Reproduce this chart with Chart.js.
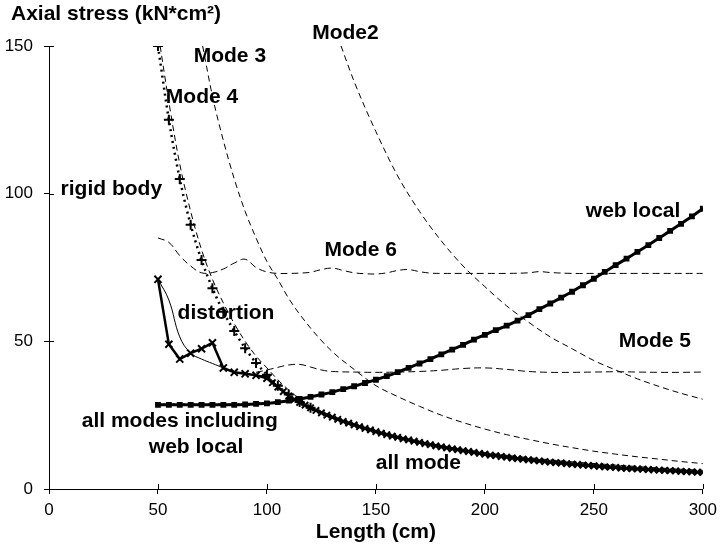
<!DOCTYPE html>
<html lang="en">
<head>
<meta charset="UTF-8">
<title>Axial stress vs length</title>
<script src="https://cdn.jsdelivr.net/npm/chart.js"></script>
<style>
  body { margin: 0; background: #fff; }
  #wrap { width: 723px; height: 546px; position: relative; }
</style>
</head>
<body>
<div id="wrap"><canvas id="stressChart"></canvas></div>
<script>
// values (x = length in cm, y = axial stress)
const xTicks = [0, 50, 100, 150, 200, 250, 300];
const yTicks = [0, 50, 100, 150];

const rigidX = [50, 55, 60, 65, 70, 75, 80, 85, 90, 95, 100, 105, 110, 115, 120];
const rigidY = [150, 125, 105, 89.5, 77.5, 68, 60, 53.5, 47.7, 42.7, 38.7, 35, 32, 29.5, 27.5];

const mode4X = [51, 55, 60, 65, 70, 75, 80, 85, 90, 95, 100, 105, 110, 115, 120, 130, 140, 150, 160, 170, 180, 190, 200, 220, 240, 260, 280, 300];
const mode4Y = [150, 131, 110, 94, 81, 71, 63, 56, 50, 45, 41, 37, 33.5, 30.5, 28, 24.8, 21.8, 19.5, 17.5, 16, 14.6, 13.4, 12.3, 10.6, 9.2, 8.1, 7.1, 6.3];

const mode3X = [70.5, 75, 80, 85, 90, 95, 100, 105, 110, 120, 130, 140, 150, 160, 170, 180, 190, 200, 210, 220, 230, 240, 250, 260, 270, 280, 290, 300];
const mode3Y = [150, 133, 118, 105, 94, 85, 77, 71, 64.5, 54.5, 46.5, 40.5, 35, 31.3, 28, 25, 22.5, 20.3, 18.4, 16.8, 15.3, 14, 12.8, 11.8, 10.9, 10.1, 9.3, 8.6];

const mode2X = [134, 140, 150, 160, 170, 180, 190, 200, 210, 220, 230, 240, 250, 260, 270, 280, 290, 300];
const mode2Y = [150, 138, 121, 106, 94, 84, 75.5, 68.5, 62, 56.5, 51.5, 47.5, 43.5, 40.3, 37.3, 34.7, 32.4, 30.4];

const mode6X = [50, 55, 60, 65, 70, 75, 80, 85, 90, 95, 100, 105, 110, 115, 120, 125, 130, 135, 140, 145, 150, 155, 160, 165, 170, 175, 180, 190, 200, 210, 220, 225, 230, 240, 250, 260, 270, 280, 290, 300];
const mode6Y = [85, 83.5, 79, 75.5, 73.2, 73.3, 74.5, 76.5, 77.8, 75, 73.5, 73, 73, 73.1, 73.4, 74.3, 74.8, 74, 73.2, 72.9, 72.8, 73.2, 74, 74.3, 73.6, 73.1, 73, 73, 73, 73, 73.2, 73.6, 73.3, 73, 73, 73, 73, 73, 73, 73];

const mode5X = [95, 100, 105, 110, 115, 120, 125, 130, 140, 150, 160, 170, 180, 190, 200, 210, 220, 230, 240, 250, 260, 270, 280, 290, 300];
const mode5Y = [39.5, 40.3, 41.2, 42, 42.2, 41.3, 40.3, 39.8, 39.6, 39.5, 39.6, 39.8, 40.2, 40.8, 41, 40.5, 39.8, 39.5, 39.5, 39.6, 39.7, 39.6, 39.5, 39.5, 39.6];

const distortionX = [50, 55, 60, 65, 70, 75, 80, 85, 90, 95, 100, 105, 110];
const distortionY = [71, 64, 51.5, 46, 44, 42.5, 41, 39.5, 39, 38.5, 38, 35, 31.5];

const allModeX = [50, 55, 60, 65, 70, 75, 80, 85, 90, 95, 100, 102.5, 105, 107.5, 110, 112.5, 115, 117.5, 120, 122.5, 125, 127.5, 130, 132.5, 135, 137.5, 140, 142.5, 145, 147.5, 150, 152.5, 155, 157.5, 160, 162.5, 165, 167.5, 170, 172.5, 175, 177.5, 180, 182.5, 185, 187.5, 190, 192.5, 195, 197.5, 200, 202.5, 205, 207.5, 210, 212.5, 215, 217.5, 220, 222.5, 225, 227.5, 230, 232.5, 235, 237.5, 240, 242.5, 245, 247.5, 250, 252.5, 255, 257.5, 260, 262.5, 265, 267.5, 270, 272.5, 275, 277.5, 280, 282.5, 285, 287.5, 290, 292.5, 295, 297.5, 300];
const allModeY = [71, 49, 44, 46, 47.5, 49.5, 41, 39.5, 39, 38.5, 37.5, 36, 34.5, 33, 31.5, 30.3, 29.3, 28.4, 27.5, 26.6, 25.8, 25, 24.3, 23.6, 22.9, 22.3, 21.7, 21.1, 20.5, 20, 19.4, 18.9, 18.4, 17.9, 17.5, 17, 16.6, 16.2, 15.8, 15.4, 15, 14.6, 14.3, 13.9, 13.6, 13.3, 13, 12.7, 12.4, 12.1, 11.8, 11.5, 11.3, 11, 10.8, 10.5, 10.3, 10.1, 9.9, 9.7, 9.5, 9.3, 9.1, 8.9, 8.8, 8.6, 8.4, 8.3, 8.1, 8, 7.8, 7.7, 7.5, 7.4, 7.3, 7.1, 7, 6.9, 6.8, 6.7, 6.6, 6.5, 6.4, 6.3, 6.2, 6.1, 6, 5.9, 5.8, 5.7, 5.6];

const webLocalX = [50, 55, 60, 65, 70, 75, 80, 85, 90, 95, 100, 105, 110, 115, 120, 125, 130, 135, 140, 145, 150, 155, 160, 165, 170, 175, 180, 185, 190, 195, 200, 205, 210, 215, 220, 225, 230, 235, 240, 245, 250, 255, 260, 265, 270, 275, 280, 285, 290, 295, 300];
const webLocalY = [28.5, 28.5, 28.5, 28.5, 28.5, 28.5, 28.5, 28.5, 28.6, 28.8, 29, 29.4, 29.9, 30.5, 31.2, 32, 32.8, 33.8, 34.8, 35.9, 37, 38.2, 39.6, 41, 42.5, 44, 45.6, 47.2, 48.8, 50.6, 52.2, 53.8, 55.3, 57, 58.9, 60.9, 62.8, 64.8, 66.8, 69, 71.2, 73.5, 75.8, 78, 80.3, 82.6, 85, 87.4, 89.8, 92.3, 94.9];

const inclX = [50, 55, 60, 65, 70, 75, 80, 85, 90, 95, 100, 105, 110, 112.5, 115, 120, 130, 140, 150, 160, 170, 180, 190, 200, 220, 240, 260, 280, 300];
const inclY = [28.5, 28.5, 28.5, 28.5, 28.5, 28.5, 28.5, 28.5, 28.6, 28.8, 29, 29.4, 29.9, 30.2, 29.3, 27.5, 24.3, 21.7, 19.4, 17.5, 15.8, 14.3, 13, 11.8, 9.9, 8.4, 7.3, 6.4, 5.6];

// text labels inside the plot (data coordinates)
const notes = [
    { text: 'Mode2', x: 136, y: 154.4 },
    { text: 'Mode 3', x: 83, y: 146.4 },
    { text: 'Mode 4', x: 70.2, y: 132.8 },
    { text: 'rigid body', x: 28.6, y: 101.4 },
    { text: 'Mode 6', x: 143, y: 81 },
    { text: 'web local', x: 268, y: 94 },
    { text: 'distortion', x: 81.2, y: 59.4 },
    { text: 'Mode 5', x: 278, y: 50 },
    { text: 'all modes including', x: 60, y: 22.8 },
    { text: 'web local', x: 67.5, y: 14 },
    { text: 'all mode', x: 169.5, y: 8.9 }
];

function pts(xs, ys) {
    return xs.map((x, i) => ({ x: x, y: ys[i] }));
}

const FONT = '"Liberation Sans", Arial, sans-serif';

const textPlugin = {
    id: 'textPlugin',
    afterDraw(chart) {
        const ctx = chart.ctx;
        const xs = chart.scales.x, ys = chart.scales.y;
        const area = chart.chartArea;
        ctx.save();
        // inner half of the axis ticks
        ctx.strokeStyle = '#000';
        ctx.lineWidth = 1;
        ctx.beginPath();
        xTicks.forEach(v => {
            const p = Math.round(xs.getPixelForValue(v)) + 0.5;
            ctx.moveTo(p, area.bottom);
            ctx.lineTo(p, area.bottom - 5);
        });
        yTicks.forEach(v => {
            const p = Math.round(ys.getPixelForValue(v)) + 0.5;
            ctx.moveTo(area.left, p);
            ctx.lineTo(area.left + 5, p);
        });
        ctx.stroke();

        ctx.fillStyle = '#000';
        ctx.font = 'bold 21px ' + FONT;
        ctx.textAlign = 'center';
        ctx.textBaseline = 'middle';
        notes.forEach(n => {
            ctx.fillText(n.text, xs.getPixelForValue(n.x), ys.getPixelForValue(n.y));
        });
        // axis titles
        ctx.fillText('Length (cm)', (area.left + area.right) / 2, 532);
        ctx.textAlign = 'left';
        ctx.fillText('Axial stress (kN*cm\u00B2)', 11, 14);
        ctx.restore();
    }
};

const ctx = document.getElementById('stressChart').getContext('2d');
new Chart(ctx, {
    type: 'line',
    data: {
        datasets: [
            {
                label: 'all modes including web local',
                data: pts(inclX, inclY),
                borderColor: '#000',
                borderWidth: 2.5,
                borderDash: [2, 3],
                pointRadius: 0,
                tension: 0
            },
            {
                label: 'web local',
                data: pts(webLocalX, webLocalY),
                borderColor: '#000',
                backgroundColor: '#000',
                borderWidth: 3,
                pointStyle: 'rect',
                pointRadius: 2,
                tension: 0.2
            },
            {
                label: 'all mode',
                data: pts(allModeX, allModeY),
                borderColor: '#000',
                borderWidth: 2.5,
                pointStyle: 'crossRot',
                pointRadius: c => (c.raw && c.raw.x <= 100 ? 5 : 4.5),
                pointBorderWidth: 2,
                tension: 0
            },
            {
                label: 'distortion',
                data: pts(distortionX, distortionY),
                borderColor: '#000',
                borderWidth: 1,
                pointRadius: 0,
                tension: 0.4
            },
            {
                label: 'rigid body',
                data: pts(rigidX, rigidY),
                borderColor: '#000',
                borderWidth: 2.5,
                borderDash: [2, 4],
                pointStyle: 'cross',
                pointRadius: 5,
                pointBorderWidth: 2,
                cubicInterpolationMode: 'monotone'
            },
            {
                label: 'Mode 4',
                data: pts(mode4X, mode4Y),
                borderColor: '#000',
                borderWidth: 1,
                borderDash: [6, 4],
                pointRadius: 0,
                cubicInterpolationMode: 'monotone'
            },
            {
                label: 'Mode 3',
                data: pts(mode3X, mode3Y),
                borderColor: '#000',
                borderWidth: 1,
                borderDash: [6, 4],
                pointRadius: 0,
                cubicInterpolationMode: 'monotone'
            },
            {
                label: 'Mode2',
                data: pts(mode2X, mode2Y),
                borderColor: '#000',
                borderWidth: 1,
                borderDash: [6, 4],
                pointRadius: 0,
                cubicInterpolationMode: 'monotone'
            },
            {
                label: 'Mode 6',
                data: pts(mode6X, mode6Y),
                borderColor: '#000',
                borderWidth: 1,
                borderDash: [7, 4],
                pointRadius: 0,
                tension: 0.4
            },
            {
                label: 'Mode 5',
                data: pts(mode5X, mode5Y),
                borderColor: '#000',
                borderWidth: 1,
                borderDash: [7, 4],
                pointRadius: 0,
                tension: 0.4
            }
        ]
    },
    options: {
        responsive: true,
        maintainAspectRatio: false,
        animation: false,
        layout: { padding: { top: 46, right: 18, left: 0, bottom: 0 } },
        plugins: {
            legend: { display: false },
            tooltip: { enabled: false }
        },
        scales: {
            x: {
                type: 'linear',
                min: 0,
                max: 300,
                afterBuildTicks: s => { s.ticks = xTicks.map(v => ({ value: v })); },
                afterFit: s => { s.height = 57; },
                ticks: { color: '#000', font: { family: FONT, size: 17 }, padding: 6, maxRotation: 0 },
                grid: { drawOnChartArea: false, tickLength: 5, color: '#000' },
                border: { color: '#000', width: 1 }
            },
            y: {
                min: 0,
                max: 150,
                afterBuildTicks: s => { s.ticks = yTicks.map(v => ({ value: v })); },
                afterFit: s => { s.width = 49; },
                ticks: { color: '#000', font: { family: FONT, size: 17 }, padding: 11 },
                grid: { drawOnChartArea: false, tickLength: 5, color: '#000' },
                border: { color: '#000', width: 1 }
            }
        }
    },
    plugins: [textPlugin]
});
</script>
</body>
</html>
